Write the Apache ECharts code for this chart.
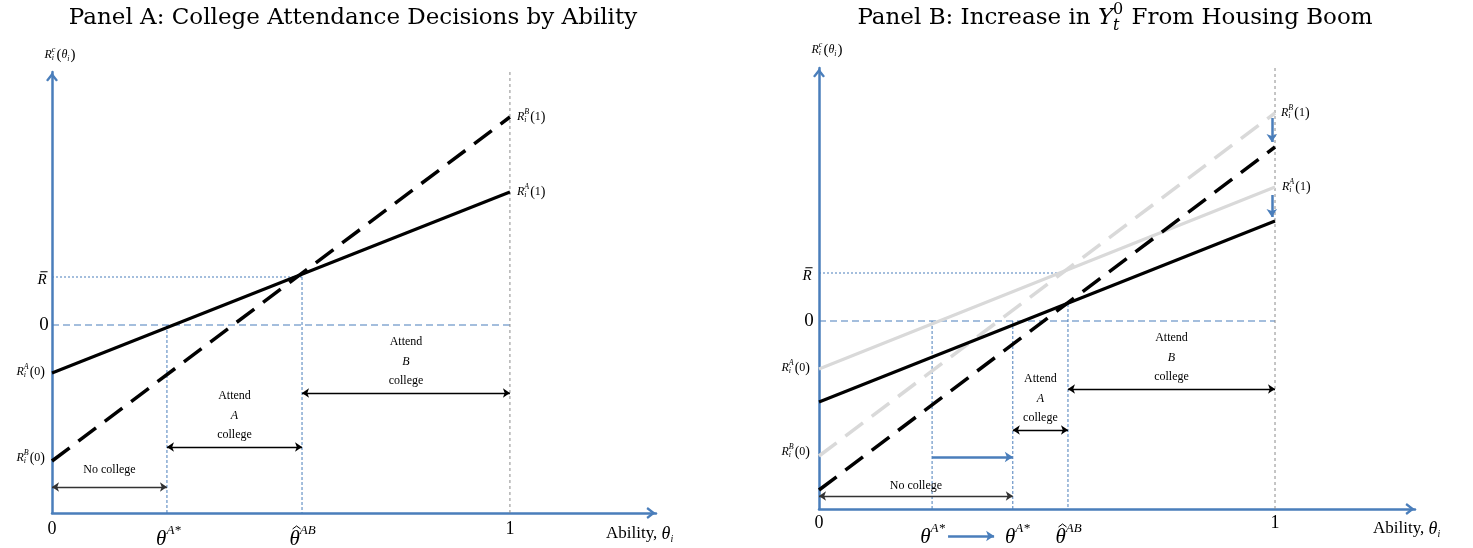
<!DOCTYPE html>
<html>
<head>
<meta charset="utf-8">
<script src="https://cdn.jsdelivr.net/npm/echarts@6/dist/echarts.min.js"></script>
<style>
html, body { margin: 0; padding: 0; background: #fff; }
#chart { width: 1473px; height: 548px; }
</style>
</head>
<body>
<div id="chart"></div>
<script>
// ability runs 0..1, returns in arbitrary units (0 = break-even)
const thetaEnds = [0, 1];

// Panel A
const aRetA = [-0.48, 1.33];     // R_i^A(0), R_i^A(1)
const aRetB = [-1.36, 2.08];     // R_i^B(0), R_i^B(1)
const aRbar = 0.48;
const aThetaStar = 0.251;
const aThetaAB = 0.546;

// Panel B (grey = before the boom, black = after)
const bRetAOld = [-0.48, 1.34];
const bRetBOld = [-1.35, 2.08];
const bRetANew = [-0.81, 1.00];
const bRetBNew = [-1.69, 1.74];
const bRbar = 0.48;
const bRbarEnd = 0.53;
const bThetaStarOld = 0.248;
const bThetaStarNew = 0.425;
const bThetaAB = 0.546;
const bCross = 0.17;

const yMin = -1.88, yMax = 2.53;

// arrow rows (y level of the double arrows)
const aArrowRows = { none: -1.62, attA: -1.22, attB: -0.68 };
const bArrowRows = { none: -1.75, attA: -1.09, attB: -0.68, shift: -1.36, below: -2.15 };

const BLUE = '#4a7ebb';
const GREY = '#d9d9d9';
const FONT = 'Liberation Serif';
const TITLE_FONT = 'DejaVu Serif';

const chart = echarts.init(document.getElementById('chart'));

function seg(gi, pts, color, width, type, z) {
  return {
    type: 'line', xAxisIndex: gi, yAxisIndex: gi, data: pts, symbol: 'none',
    silent: true, animation: false, clip: false, z: z || 2,
    lineStyle: { color: color, width: width, type: type || 'solid', cap: 'butt' }
  };
}

function arrow(gi, from, to, color, width, both, size) {
  return {
    type: 'lines', coordinateSystem: 'cartesian2d', xAxisIndex: gi, yAxisIndex: gi,
    silent: true, animation: false, clip: false, z: 6,
    symbol: both ? ['arrow', 'arrow'] : ['none', 'arrow'], symbolSize: size || 7,
    lineStyle: { color: color, width: width, opacity: 1, curveness: 0 },
    data: [{ coords: [from, to] }]
  };
}

const chevron = 'path://M5,0 L10,6.5 L8.4,7.6 L5,3.3 L1.6,7.6 L0,6.5 Z';

function axes(gi) {
  const line = {
    show: true, onZero: false,
    symbol: ['none', chevron], symbolSize: [12, 10], symbolOffset: [0, -5],
    lineStyle: { color: BLUE, width: 2.5 }
  };
  return {
    x: { type: 'value', gridIndex: gi, min: 0, max: gi === 0 ? 1.319 : 1.307,
         axisLine: line, axisTick: { show: false }, axisLabel: { show: false }, splitLine: { show: false } },
    y: { type: 'value', gridIndex: gi, min: yMin, max: yMax,
         axisLine: line, axisTick: { show: false }, axisLabel: { show: false }, splitLine: { show: false } }
  };
}

const axA = axes(0), axB = axes(1);
const dashBig = [7, 4], dot = [2, 2], longDash = [22, 11];

const series = [
  // Panel A guides
  seg(0, [[0, 0], [1, 0]], BLUE, 1.2, dashBig),
  seg(0, [[0, aRbar], [aThetaAB, aRbar]], BLUE, 1, dot),
  seg(0, [[aThetaStar, 0], [aThetaStar, yMin]], BLUE, 1, [3, 2]),
  seg(0, [[aThetaAB, aRbar], [aThetaAB, yMin]], BLUE, 1, [3, 2]),
  seg(0, [[1, yMin], [1, yMax]], '#8c8c8c', 1, [3, 3]),
  // Panel A returns
  seg(0, [[thetaEnds[0], aRetA[0]], [thetaEnds[1], aRetA[1]]], '#000', 3, 'solid', 4),
  seg(0, [[thetaEnds[0], aRetB[0]], [thetaEnds[1], aRetB[1]]], '#000', 3.5, longDash, 4),
  arrow(0, [0, aArrowRows.none], [aThetaStar, aArrowRows.none], '#333', 1.3, true, 7),
  arrow(0, [aThetaStar, aArrowRows.attA], [aThetaAB, aArrowRows.attA], '#000', 1.3, true, 7),
  arrow(0, [aThetaAB, aArrowRows.attB], [1, aArrowRows.attB], '#000', 1.3, true, 7),

  // Panel B guides
  seg(1, [[0, 0], [1, 0]], BLUE, 1.2, dashBig),
  seg(1, [[0, bRbar], [bRbarEnd, bRbar]], BLUE, 1, dot),
  seg(1, [[bThetaStarOld, 0], [bThetaStarOld, yMin]], BLUE, 1, [3, 2]),
  seg(1, [[bThetaStarNew, 0], [bThetaStarNew, yMin]], BLUE, 1, [3, 2]),
  seg(1, [[bThetaAB, bCross], [bThetaAB, yMin]], BLUE, 1, [3, 2]),
  seg(1, [[1, yMin], [1, yMax]], '#8c8c8c', 1, [3, 3]),
  // Panel B returns
  seg(1, [[thetaEnds[0], bRetAOld[0]], [thetaEnds[1], bRetAOld[1]]], GREY, 3, 'solid', 3),
  seg(1, [[thetaEnds[0], bRetBOld[0]], [thetaEnds[1], bRetBOld[1]]], GREY, 3.5, longDash, 3),
  seg(1, [[thetaEnds[0], bRetANew[0]], [thetaEnds[1], bRetANew[1]]], '#000', 3, 'solid', 4),
  seg(1, [[thetaEnds[0], bRetBNew[0]], [thetaEnds[1], bRetBNew[1]]], '#000', 3.5, longDash, 4),
  arrow(1, [0, bArrowRows.none], [bThetaStarNew, bArrowRows.none], '#333', 1.3, true, 7),
  arrow(1, [bThetaStarNew, bArrowRows.attA], [bThetaAB, bArrowRows.attA], '#000', 1.3, true, 7),
  arrow(1, [bThetaAB, bArrowRows.attB], [1, bArrowRows.attB], '#000', 1.3, true, 7),
  arrow(1, [bThetaStarOld, bArrowRows.shift], [bThetaStarNew, bArrowRows.shift], BLUE, 2.5, false, 8),
  arrow(1, [0.993, 2.03], [0.993, 1.79], BLUE, 2.5, false, 8),
  arrow(1, [0.993, 1.26], [0.993, 1.04], BLUE, 2.5, false, 8),
  arrow(1, [0.283, bArrowRows.below], [0.384, bArrowRows.below], BLUE, 2.5, false, 8)
];

chart.setOption({
  animation: false,
  backgroundColor: '#fff',
  grid: [
    { left: 52, top: 72, width: 604, height: 441 },
    { left: 819, top: 68, width: 596, height: 441 }
  ],
  xAxis: [axA.x, axB.x],
  yAxis: [axA.y, axB.y],
  series: series
});

// ---- text (math-like labels built from pieces) ----
const mctx = document.createElement('canvas').getContext('2d');
function fontOf(size, it, fam) { return (it ? 'italic ' : '') + size + 'px "' + (fam || FONT) + '"'; }
function tw(s, size, it, fam) { mctx.font = fontOf(size, it, fam); return mctx.measureText(s).width; }

// tokens: [text, size, italic, dy, accent('bar'|'hat')]  or  {sup, sub, size, supIt, subIt, supDy, subDy}
function mathText(x, y, tokens, align, fam) {
  const items = [];
  let cx = 0;
  tokens.forEach(function (tk) {
    if (Array.isArray(tk)) {
      const w = tw(tk[0], tk[1], tk[2], fam);
      items.push({ s: tk[0], size: tk[1], it: tk[2], x: cx, dy: tk[3] || 0 });
      if (tk[4]) items.push({ accent: tk[4], size: tk[1], x: cx, w: w, dy: tk[3] || 0 });
      cx += w;
    } else {
      let w = 0;
      if (tk.sup) {
        const it = tk.supIt !== false;
        items.push({ s: tk.sup, size: tk.size, it: it, x: cx, dy: tk.supDy != null ? tk.supDy : -5 });
        w = Math.max(w, tw(tk.sup, tk.size, it, fam));
      }
      if (tk.sub) {
        const it = tk.subIt !== false;
        items.push({ s: tk.sub, size: tk.size, it: it, x: cx, dy: tk.subDy != null ? tk.subDy : 4 });
        w = Math.max(w, tw(tk.sub, tk.size, it, fam));
      }
      cx += w + 1;
    }
  });
  const x0 = align === 'right' ? x - cx : align === 'center' ? x - cx / 2 : x;
  return items.map(function (it) {
    const bx = x0 + it.x, by = y + it.dy, s = it.size;
    if (it.accent === 'bar') {
      return { type: 'line', silent: true, z: 10, shape: { x1: bx + s * 0.2, y1: by - s * 0.55, x2: bx + it.w + 1, y2: by - s * 0.55 },
               style: { stroke: '#000', lineWidth: 1 } };
    }
    if (it.accent === 'hat') {
      const mx = bx + it.w / 2 + 2, top = by - s * 0.62;
      return { type: 'polyline', silent: true, z: 10, shape: { points: [[mx - 4, top + 3], [mx, top], [mx + 4, top + 3]] },
               style: { stroke: '#000', lineWidth: 1, fill: null } };
    }
    return {
      type: 'text', silent: true, z: 10, x: bx, y: by,
      style: { text: it.s, font: fontOf(it.size, it.it, fam), fill: '#000', align: 'left', verticalAlign: 'middle' }
    };
  });
}

function plain(x, y, s, size, align, it) {
  return {
    type: 'text', silent: true, z: 10, x: x, y: y,
    style: { text: s, font: fontOf(size, it), fill: '#000', align: align || 'center', verticalAlign: 'middle' }
  };
}

function rLabel(sup, arg) {
  return [['R', 12, true], { sup: sup, sub: 'i', size: 8, supDy: -5, subDy: 3 }, ['(', 14, false], [arg, 12, false], [')', 14, false]];
}
const rcTokens = [['R', 12, true], { sup: 'c', sub: 'i', size: 8, supDy: -5, subDy: 3 }, ['(', 15, false], ['θ', 12, true],
  { sub: 'i', size: 8, subDy: 4 }, [')', 15, false]];
const thetaStar = [['θ', 21, true], { sup: 'A*', size: 13, supDy: -8 }];
const thetaHat = [['θ', 21, true, 0, 'hat'], { sup: 'AB', size: 13, supDy: -8 }];
const rBarTok = [['R', 15, true, 0, 'bar']];
const ability = [['Ability, ', 17, false], ['θ', 18, true], { sub: 'i', size: 10, subDy: 5 }];

function px(gi, p) { return chart.convertToPixel({ xAxisIndex: gi, yAxisIndex: gi }, p); }

function attendText(gi, x1, x2, row, letter) {
  const p = px(gi, [(x1 + x2) / 2, row]);
  return [plain(p[0], p[1] - 51, 'Attend', 12), plain(p[0], p[1] - 31, letter, 12, 'center', true), plain(p[0], p[1] - 12, 'college', 12)];
}

let g = [];
// titles
g = g.concat(mathText(353, 18, [['Panel A: College Attendance Decisions by Ability', 23, false]], 'center', TITLE_FONT));
g = g.concat(mathText(1115, 18, [['Panel B: Increase in ', 23, false], ['Y', 23, true],
  { sup: '0', sub: 't', size: 16, supIt: false, supDy: -8, subDy: 8 }, [' From Housing Boom', 23, false]], 'center', TITLE_FONT));

// Panel A labels
let p;
p = px(0, [0, yMax]); g = g.concat(mathText(p[0] + 8, p[1] - 17, rcTokens, 'center'));
p = px(0, [0, aRbar]); g = g.concat(mathText(p[0] - 10, p[1] + 3, rBarTok, 'center'));
p = px(0, [0, 0]); g.push(plain(p[0] - 8, p[1], '0', 19));
p = px(0, [0, aRetA[0]]); g = g.concat(mathText(p[0] - 7, p[1] - 1, rLabel('A', '0'), 'right'));
p = px(0, [0, aRetB[0]]); g = g.concat(mathText(p[0] - 7, p[1] - 3, rLabel('B', '0'), 'right'));
p = px(0, [1, aRetB[1]]); g = g.concat(mathText(p[0] + 7, p[1], rLabel('B', '1'), 'left'));
p = px(0, [1, aRetA[1]]); g = g.concat(mathText(p[0] + 7, p[1], rLabel('A', '1'), 'left'));
p = px(0, [0, yMin]); g.push(plain(p[0], p[1] + 16, '0', 18));
p = px(0, [aThetaStar, yMin]); g = g.concat(mathText(p[0] + 2, p[1] + 26, thetaStar, 'center'));
p = px(0, [aThetaAB, yMin]); g = g.concat(mathText(p[0] + 1, p[1] + 26, thetaHat, 'center'));
p = px(0, [1, yMin]); g.push(plain(p[0], p[1] + 16, '1', 18));
g = g.concat(mathText(606, 534, ability, 'left'));
p = px(0, [aThetaStar / 2, aArrowRows.none]); g.push(plain(p[0], p[1] - 17, 'No college', 12));
g = g.concat(attendText(0, aThetaStar, aThetaAB, aArrowRows.attA, 'A'));
g = g.concat(attendText(0, aThetaAB, 1, aArrowRows.attB, 'B'));

// Panel B labels
p = px(1, [0, yMax]); g = g.concat(mathText(p[0] + 8, p[1] - 18, rcTokens, 'center'));
p = px(1, [0, bRbar]); g = g.concat(mathText(p[0] - 12, p[1] + 3, rBarTok, 'center'));
p = px(1, [0, 0]); g.push(plain(p[0] - 10, p[1], '0', 19));
p = px(1, [0, bRetAOld[0]]); g = g.concat(mathText(p[0] - 9, p[1] - 1, rLabel('A', '0'), 'right'));
p = px(1, [0, bRetBOld[0]]); g = g.concat(mathText(p[0] - 9, p[1] - 4, rLabel('B', '0'), 'right'));
p = px(1, [1, bRetBOld[1]]); g = g.concat(mathText(p[0] + 6, p[1], rLabel('B', '1'), 'left'));
p = px(1, [1, bRetAOld[1]]); g = g.concat(mathText(p[0] + 7, p[1], rLabel('A', '1'), 'left'));
p = px(1, [0, yMin]); g.push(plain(p[0], p[1] + 14, '0', 18));
p = px(1, [bThetaStarOld, yMin]); g = g.concat(mathText(p[0] + 1, p[1] + 28, thetaStar, 'center'));
p = px(1, [bThetaStarNew, yMin]); g = g.concat(mathText(p[0] + 5, p[1] + 28, thetaStar, 'center'));
p = px(1, [bThetaAB, yMin]); g = g.concat(mathText(p[0] + 1, p[1] + 28, thetaHat, 'center'));
p = px(1, [1, yMin]); g.push(plain(p[0], p[1] + 14, '1', 18));
g = g.concat(mathText(1373, 529, ability, 'left'));
p = px(1, [bThetaStarNew / 2, bArrowRows.none]); g.push(plain(p[0], p[1] - 10, 'No college', 12));
g = g.concat(attendText(1, bThetaStarNew, bThetaAB, bArrowRows.attA, 'A'));
g = g.concat(attendText(1, bThetaAB, 1, bArrowRows.attB, 'B'));

chart.setOption({ graphic: { elements: g } });
</script>
</body>
</html>
